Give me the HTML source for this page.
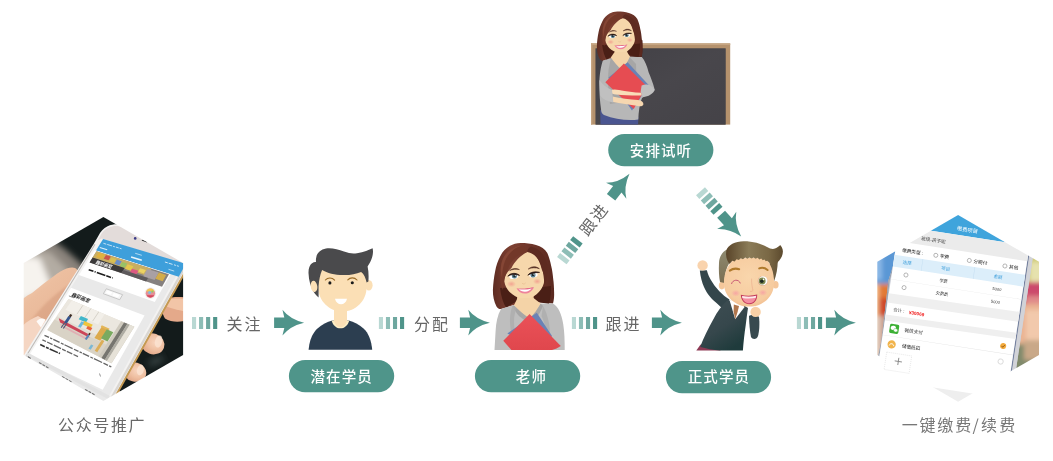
<!DOCTYPE html>
<html lang="zh-CN">
<head>
<meta charset="utf-8">
<title>流程</title>
<style>
html,body{margin:0;padding:0;background:#fff;}
body{width:1053px;height:461px;overflow:hidden;position:relative;font-family:"Liberation Sans","Noto Sans CJK SC",sans-serif;}
svg{position:absolute;left:0;top:0;display:block;will-change:transform;}
.lbl{font-family:"Liberation Sans","Noto Sans CJK SC",sans-serif;font-size:16px;fill:#666;letter-spacing:2px;}
.cap{font-family:"Noto Sans CJK SC","Liberation Sans",sans-serif;font-size:16px;fill:#686868;}
.pill{font-family:"Liberation Sans","Noto Sans CJK SC",sans-serif;font-size:14.5px;fill:#fff;font-weight:500;letter-spacing:1.1px;}
.st{font-family:"Liberation Sans","Noto Sans CJK SC",sans-serif;}
</style>
</head>
<body>
<svg width="1053" height="461" viewBox="0 0 1053 461">
<defs>
  <g id="bars">
    <rect x="0" y="-6" width="4.1" height="12" fill="#b9d8d3"/>
    <rect x="7.04" y="-6" width="4.1" height="12" fill="#8dbdb6"/>
    <rect x="14.08" y="-6" width="4.1" height="12" fill="#6ea79f"/>
    <rect x="21.12" y="-6" width="4.1" height="12" fill="#4f948a"/>
  </g>
  <g id="bars2">
    <rect x="0" y="-6" width="4.9" height="12" fill="#b9d8d3"/>
    <rect x="7.1" y="-6" width="4.9" height="12" fill="#8dbdb6"/>
    <rect x="14.2" y="-6" width="4.9" height="12" fill="#6ea79f"/>
    <rect x="21.3" y="-6" width="4.9" height="12" fill="#4f948a"/>
  </g>
  <path id="arrow" d="M0,-5.3 L10.2,-5.3 L8.35,-12.9 Q16,-3.2 30,0 Q16,3.2 8.35,12.9 L10.2,5.3 L0,5.3 Z" fill="#4f948a"/>
  <clipPath id="hexL"><polygon points="103.4,216.9 183.1,262.9 183.1,354.9 103.4,400.9 23.7,354.9 23.7,262.9"/></clipPath>
  <clipPath id="hexR"><polygon points="958.1,215.1 1039,261.8 1039,355 958.1,401.7 877.3,355 877.3,261.8"/></clipPath>

<linearGradient id="hairG" x1="0" y1="0" x2="1" y2="0">
  <stop offset="0" stop-color="#5e2c22"/>
  <stop offset="0.3" stop-color="#7d4032"/>
  <stop offset="0.6" stop-color="#6f362a"/>
  <stop offset="1" stop-color="#5a291f"/>
</linearGradient>
<linearGradient id="redG" x1="0" y1="0" x2="0" y2="1">
  <stop offset="0" stop-color="#ea5158"/>
  <stop offset="1" stop-color="#e0474d"/>
</linearGradient>
<radialGradient id="blushG">
  <stop offset="0" stop-color="#f29a8c" stop-opacity="0.85"/>
  <stop offset="1" stop-color="#f29a8c" stop-opacity="0"/>
</radialGradient>
<g id="thead">
  <!-- teacher head in local coords; origin = (488,238) source -->
  <!-- back hair -->
  <path d="M32.5,5 C28.5,5 25,6.2 22,7.8 C18,10 14.5,13.5 12.4,18 C10,22.5 8,28 7.2,33 C6,39 5.2,45 4.9,52 C4.8,58 6,64 8.5,68.5 C10,70.5 11.5,71.3 13,71 L29,66 L46,64 L65,65.6 C66,62 66.3,58 66.1,54 C66,49 65.8,45 65.2,41 C64.8,36 64.2,32 63.2,28 C62.3,23 61,19 59.3,15 C57,11 53,8.6 48,7 C43,5.4 38,5 32.5,5 Z" fill="url(#hairG)"/>
  <path d="M12,50 C13,58 15,65 18,69.6 L31,62 L29,49 Z" fill="#4a1f16"/>
  <path d="M45,50 L45,63 L61,66 C62.6,60 63.2,54 63,48 Z" fill="#4a1f16"/>
  <!-- neck -->
  <path d="M29.5,50 L45,50 L46,64 L29,64 Z" fill="#efcb9f"/>
  <path d="M29.5,55 C33,59.5 41,59.5 45,54 L45,57.5 C41,62 33,62 29.5,58 Z" fill="#e2b98a" opacity="0.7"/>
  <!-- face -->
  <path d="M39.2,14 C32,17.5 26.5,24 23.6,29.7 C19.6,33.4 16.2,38 16.3,43.3 C16.8,48 19.5,51.5 21.6,54 C25,57.2 29.5,59.6 33,61 C35.5,62 38.5,62.2 41,61 C44.5,59.4 48,57 50.9,54 C54,50.5 56,46.5 56.3,42.4 C56.6,38.6 55.6,35 53.8,31.6 C52.6,26 50,19.5 46.5,16 C44,14 41.5,13.4 39.2,14 Z" fill="#f6d7ab"/>
  <!-- hair front strands -->
  <path d="M39.2,14 C30,16 23.5,22 20.2,30 C17,37 15.4,44 15,52 C11.4,44 10.6,34 13.2,25.5 C16,16 24.5,8.6 34,7.6 C37,8.6 38.8,11 39.2,14 Z" fill="#733829"/>
  <path d="M34,7.6 C27,9.5 20.5,15 17,23 C15,28 14,34 14.2,40 C12.2,34 12.5,27 14.6,21.5 C18,13.5 25.5,8.4 34,7.6 Z" fill="#8a4a38" opacity="0.8"/>
  <path d="M39.2,14 C44.5,14.6 49.6,19 52.6,26 C55,32 56.4,40 56.2,48 C59,42 60.2,34 59.2,27 C57.6,17.4 51,10.4 43,8.6 C41,9.6 39.6,11.4 39.2,14 Z" fill="#5e2b20"/>
  <!-- blush -->
  <ellipse cx="23.4" cy="46" rx="4.6" ry="3.2" fill="url(#blushG)"/>
  <ellipse cx="49.2" cy="43.4" rx="4.2" ry="3" fill="url(#blushG)"/>
  <!-- eyes -->
  <ellipse cx="25.8" cy="38.2" rx="4.5" ry="2.7" fill="#fff" transform="rotate(-6 25.8 38.2)"/>
  <circle cx="26.4" cy="38.1" r="2.5" fill="#5b8190"/>
  <circle cx="26.4" cy="38.1" r="1.2" fill="#1b2a30"/>
  <circle cx="27.3" cy="37.3" r="0.6" fill="#fff"/>
  <path d="M19.8,38.2 C22,35 27.8,34.2 31.6,37.4 C27.6,36 23.2,36.2 19.8,38.2 Z" fill="#2a1712" stroke="#2a1712" stroke-width="0.7" stroke-linejoin="round"/>
  <ellipse cx="45.4" cy="36.8" rx="4.3" ry="2.7" fill="#fff" transform="rotate(-8 45.4 36.8)"/>
  <circle cx="45" cy="36.9" r="2.5" fill="#5b8190"/>
  <circle cx="45" cy="36.9" r="1.2" fill="#1b2a30"/>
  <circle cx="45.9" cy="36.1" r="0.6" fill="#fff"/>
  <path d="M39.8,37.2 C42.4,33.8 47.6,33.2 51.6,34.4 C47.4,34.6 43,35.2 39.8,37.2 Z" fill="#2a1712" stroke="#2a1712" stroke-width="0.7" stroke-linejoin="round"/>
  <!-- brows -->
  <path d="M21.6,32.6 C24.4,30.2 28,29.8 31.4,31.6 C28,31 24.6,31.2 21.6,32.6 Z" fill="#4a241a" stroke="#4a241a" stroke-width="0.5" stroke-linejoin="round"/>
  <path d="M40.2,31.1 C43,28.4 47.4,27.6 51.4,30.7 C47.6,29.4 43.6,29.6 40.2,31.1 Z" fill="#4a241a" stroke="#4a241a" stroke-width="0.5" stroke-linejoin="round"/>
  <!-- nose -->
  <path d="M34.2,45.4 C35.2,46.4 36.6,46.3 37.4,45.2" fill="none" stroke="#e6bd90" stroke-width="0.7" stroke-linecap="round"/>
  <!-- mouth -->
  <path d="M28.5,50.2 C32,51.2 41,50.6 46,49.2 C44,53.4 40.6,55.6 37,55.6 C33.4,55.6 30.2,53.6 28.5,50.2 Z" fill="#ee829c"/>
  <path d="M28.5,50.2 C32,51.2 41,50.6 46,49.2 C41,51.4 33,52 28.5,50.2 Z" fill="#dc5a7e"/>
  <path d="M30.8,51.2 C34,52 40,51.6 43.6,50.4 C42.2,52.4 39.8,53.6 37,53.7 C34.4,53.7 32.2,52.8 30.8,51.2 Z" fill="#fff"/>
</g>
<linearGradient id="boardG" x1="0" y1="0" x2="1" y2="1">
  <stop offset="0" stop-color="#3f3e43" stop-opacity="0.6"/>
  <stop offset="0.5" stop-color="#4a494e" stop-opacity="0.6"/>
  <stop offset="1" stop-color="#434247" stop-opacity="0.6"/>
</linearGradient>
<linearGradient id="shairG" x1="0" y1="0" x2="1" y2="0">
  <stop offset="0" stop-color="#594429"/>
  <stop offset="0.4" stop-color="#8b7c58"/>
  <stop offset="0.75" stop-color="#7a6845"/>
  <stop offset="1" stop-color="#5c4a2e"/>
</linearGradient>
<linearGradient id="sideG" x1="0" y1="0" x2="0" y2="1">
  <stop offset="0" stop-color="#8e8a70"/>
  <stop offset="1" stop-color="#7b6e52"/>
</linearGradient>
<linearGradient id="swG" x1="0" y1="0" x2="0.6" y2="1">
  <stop offset="0" stop-color="#3f4f54"/>
  <stop offset="0.6" stop-color="#36474c"/>
  <stop offset="1" stop-color="#1f3b3c"/>
</linearGradient>
<radialGradient id="sblushG">
  <stop offset="0" stop-color="#f6a3a3" stop-opacity="0.95"/>
  <stop offset="1" stop-color="#f6a3a3" stop-opacity="0"/>
</radialGradient>
<radialGradient id="faceG" cx="0.5" cy="0.4" r="0.65">
  <stop offset="0" stop-color="#f9d6ac"/>
  <stop offset="0.8" stop-color="#f6cb9f"/>
  <stop offset="1" stop-color="#f1bb8c"/>
</radialGradient>
<filter id="blur4" x="-30%" y="-30%" width="160%" height="160%"><feGaussianBlur stdDeviation="4"/></filter>
<filter id="blur1" x="-20%" y="-20%" width="140%" height="140%"><feGaussianBlur stdDeviation="0.9"/></filter>
<filter id="blur05" x="-20%" y="-20%" width="140%" height="140%"><feGaussianBlur stdDeviation="0.5"/></filter>
<linearGradient id="thumbG" x1="0" y1="0" x2="0.5" y2="1">
  <stop offset="0" stop-color="#f7dac2"/>
  <stop offset="0.35" stop-color="#ecbe9f"/>
  <stop offset="1" stop-color="#e4ae8e"/>
</linearGradient>
<radialGradient id="tipG" cx="0.6" cy="0.4" r="0.7">
  <stop offset="0" stop-color="#f8d6c0"/>
  <stop offset="0.5" stop-color="#efc0a2"/>
  <stop offset="1" stop-color="#dfa283"/>
</radialGradient>
<linearGradient id="bgL" x1="0" y1="0" x2="1" y2="0">
  <stop offset="0" stop-color="#f1eee9"/>
  <stop offset="0.45" stop-color="#b8b1a8"/>
  <stop offset="1" stop-color="#6b665f"/>
</linearGradient>
<filter id="blur3" x="-30%" y="-30%" width="160%" height="160%"><feGaussianBlur stdDeviation="3"/></filter>
<filter id="blur2" x="-30%" y="-30%" width="160%" height="160%"><feGaussianBlur stdDeviation="2.2"/></filter>

</defs>

<!-- LEFT HEX -->
<g id="hex-left" clip-path="url(#hexL)"><g style="isolation:isolate" opacity="0.999">
<rect x="20" y="210" width="170" height="195" fill="#131b1b"/>
<g filter="url(#blur3)">
<polygon points="0,262 30,246 50,238 66,250 86,268 60,296 0,320" fill="#8a837b"/>
<polygon points="0,262 28,250 50,252 68,270 50,296 0,314" fill="#b3aca3"/>
<polygon points="0,262 24,256 40,258 52,288 0,312" fill="#f6f3ee"/>
</g>
<ellipse cx="156" cy="361" rx="9" ry="4" fill="#333c3c" filter="url(#blur3)" transform="rotate(-25 156 361)"/>
<path d="M10,312 C16,304 24,297 32,293 C42,285 52,277 60,271.8 C66,268 72,266.6 75,268 C78,269.4 78.6,272.5 76.5,276 L30,360 L10,380 Z" fill="url(#thumbG)"/>
<path d="M30,322 C40,308 54,294 70,284 L74,279 L60,303 L44,330 Z" fill="#d9a283" opacity="0.7" filter="url(#blur1)"/>
<path d="M10,380 L10,340 C18,328 28,320 38,316 L48,322 L28,362 Z" fill="#f5d6c3"/>
<path d="M36.5,321.5 C38.5,318.6 42.5,317.6 45.5,319.4 L41,327.5 Z" fill="#fff" opacity="0.9"/>
<path d="M166.5,298.5 C172,296.5 182,296.5 190,298 L190,319 C182,322.5 172,322.8 165,318.5 C161,313 162,303 166.5,298.5 Z" fill="#e4a98a"/>
<path d="M168,299.6 C174,298 183,298.4 190,300 L190,312 C182,311 174,309.5 166.5,306.5 Z" fill="#f2c5a7"/>
<ellipse cx="152.6" cy="343.8" rx="12" ry="10.4" fill="url(#tipG)" transform="rotate(20 152.6 343.8)"/>
<ellipse cx="158.6" cy="341.5" rx="3.6" ry="6.2" fill="#fbe3d2" opacity="0.8" transform="rotate(15 158.6 341.5)"/>
<ellipse cx="134.8" cy="372" rx="11.6" ry="9.6" fill="url(#tipG)" transform="rotate(15 134.8 372)"/>
<ellipse cx="140.4" cy="370" rx="3.4" ry="5.4" fill="#fbe3d2" opacity="0.8" transform="rotate(15 140.4 370)"/>
<ellipse cx="115" cy="396" rx="8" ry="6" fill="#e9b596"/>
<path d="M94,243.6 L98.6,235.6 C100.4,231.6 103.4,228.2 107.6,226.2 C110.6,224.8 113.6,224.2 117,224.2 L196.3,236 L196.3,250 L108.9,406 L11,376 Z" fill="#c59a52" transform="translate(1.9,0.6)"/>
<path d="M94,243.6 L98.6,235.6 C100.4,231.6 103.4,228.2 107.6,226.2 C110.6,224.8 113.6,224.2 117,224.2 L196.3,236 L196.3,250 L108.9,406 L11,376 Z" fill="#f3f2f1"/>
<path d="M196.3,250 L108.9,406" stroke="#d9d6d2" stroke-width="2.4" fill="none" transform="translate(-1.6,-0.5)"/>
<path d="M97.6,240.6 L100.2,236 C102,232.4 104.8,229.4 108.6,227.6 C111.4,226.4 114,225.8 117.5,226 L190,240 L190,266 L101.5,238.5 Z" fill="#e3dcda"/>
<path d="M95,244.2 L19.5,367" stroke="#bdbab7" stroke-width="1.1" fill="none"/>
<circle cx="135.2" cy="238.4" r="1.3" fill="#3b3a86"/>
<path d="M142.4,240.3 L146.6,241.8" stroke="#2a2a2a" stroke-width="1.2" stroke-linecap="round"/>
<polygon points="94.5,249.8 176.4,275.7 101.1,410.2 20.1,369.8" fill="#e9e9e9" />
<polygon points="103.1,239.0 185.9,263.8 178.7,276.8 96.0,250.5" fill="#3e9fdb" />
<line x1="103.4" y1="243.3" x2="121.5" y2="248.8" stroke="#cfe8f8" stroke-width="0.90" stroke-dasharray="3 1 5 1 2 1"/>
<line x1="99.8" y1="247.5" x2="107.2" y2="249.8" stroke="#dff0fb" stroke-width="1.10" />
<line x1="135.2" y1="253.3" x2="141.8" y2="255.3" stroke="#cfe8f8" stroke-width="0.80" />
<line x1="131.1" y1="257.0" x2="141.8" y2="260.3" stroke="#e8f4fc" stroke-width="1.50" />
<line x1="164.9" y1="262.0" x2="178.8" y2="266.3" stroke="#cfe8f8" stroke-width="1.00" stroke-dasharray="3 1 4 1.5 2 1"/>
<line x1="168.5" y1="269.3" x2="174.2" y2="271.1" stroke="#cfe8f8" stroke-width="0.80" />
<polygon points="94.4,250.0 170.5,274.2 154.8,302.0 78.9,275.0" fill="#ffffff" />
<polygon points="96.5,251.3 169.0,274.3 162.0,286.7 89.6,262.4" fill="#85807f" />
<polygon points="96.5,251.3 151.4,268.7 147.2,276.1 92.3,258.1" fill="#c9ae62" />
<polygon points="98.7,252.6 105.2,254.7 102.5,259.1 95.9,257.0" fill="#e0b23e" />
<polygon points="106.0,254.9 110.9,256.5 108.6,260.3 103.7,258.7" fill="#c9544a" />
<polygon points="111.4,257.4 116.3,259.0 114.0,262.8 109.0,261.2" fill="#d8c052" />
<polygon points="116.9,259.6 121.8,261.2 119.3,265.4 114.4,263.8" fill="#6a8ec9" />
<polygon points="122.3,262.0 127.2,263.5 124.6,267.9 119.7,266.3" fill="#98c266" />
<polygon points="127.7,264.3 133.4,266.2 130.8,270.7 125.1,268.8" fill="#e4c84e" />
<polygon points="132.0,268.7 138.5,270.8 136.2,274.8 129.6,272.7" fill="#dc5a82" />
<polygon points="140.1,268.2 145.8,270.0 143.8,273.4 138.1,271.5" fill="#ecd262" />
<polygon points="147.4,268.9 158.9,272.6 154.6,280.1 143.1,276.3" fill="#a9a0a4" />
<polygon points="158.9,272.6 166.2,274.9 162.7,281.2 155.3,278.8" fill="#d2ac4a" />
<polygon points="92.7,257.4 124.6,267.9 121.5,273.1 89.6,262.4" fill="#3c3a3a" />
<polygon points="123.5,269.9 148.0,278.0 146.1,281.4 121.5,273.1" fill="#5e5a5c" />
<text class="st" transform="matrix(1 0.31 -0.6 1 95.2 263.6)" font-size="4" font-weight="700" fill="#fff">趣彩画室</text>
<line x1="88.7" y1="269.7" x2="112.7" y2="278.0" stroke="#1d1d1d" stroke-width="1.60" stroke-dasharray="5 1.2 1.2 1.2 9 1"/>
<polygon points="106.3,288.8 122.6,294.7 119.7,299.7 103.4,293.7" fill="#f6f6f6" stroke="#b5b5b5" stroke-width="0.7"/>
<polygon points="107.3,290.5 112.2,292.3 110.7,294.8 105.8,293.0" fill="#ffffff" />
<polygon points="113.8,292.8 119.5,294.9 118.0,297.4 112.3,295.4" fill="#ffffff" />
<circle cx="150.4" cy="293.1" r="5.9" fill="#f4f2ee"/>
<circle cx="150.4" cy="293.3" r="4.7" fill="#e58f98"/>
<path d="M146.2,291.6 A4.4,4.4 0 0 1 154.6,291.6 Z" fill="#f0c654"/>
<path d="M146.6,295.2 L154.2,295.2 A4.4,4.4 0 0 1 146.6,295.2 Z" fill="#d4475c"/>
<circle cx="149.6" cy="292.6" r="1.5" fill="#7fc0dc"/>
<circle cx="152.4" cy="291.6" r="1.1" fill="#8ccf6a"/>
<polygon points="71.0,287.8 144.6,315.4 102.7,389.7 29.4,354.8" fill="#ffffff" />
<text class="st" transform="matrix(1 0.37 -0.6 1 71 296.2)" font-size="4.5" font-weight="700" fill="#222">趣彩画室</text>
<line x1="68.9" y1="295.9" x2="73.8" y2="297.8" stroke="#777" stroke-width="0.80" />
<polygon points="68.5,299.1 134.3,326.7 111.5,363.3 47.3,330.0" fill="#e2ddd2" />
<polygon points="68.5,299.1 122.5,321.7 110.1,341.3 56.8,316.1" fill="#ebe7df" />
<polygon points="54.5,319.5 107.6,345.2 99.9,357.3 47.3,330.0" fill="#d9d3c6" />
<polygon points="71.8,300.5 104.7,314.3 98.1,324.5 65.4,309.8" fill="#f2efe9" />
<polygon points="121.1,321.2 134.3,326.7 111.5,363.3 98.7,356.6" fill="#cfcabe" />
<polygon points="124.1,322.4 127.4,323.8 104.8,359.8 101.5,358.1" fill="#76756f" />
<polygon points="127.4,323.8 129.7,324.8 107.0,361.0 104.8,359.8" fill="#aeaca3" />
<polygon points="129.7,324.8 134.3,326.7 111.5,363.3 107.0,361.0" fill="#e6e2d8" />
<line x1="83.0" y1="305.2" x2="76.9" y2="314.2" stroke="#b9b4a8" stroke-width="0.50" />
<line x1="90.9" y1="308.5" x2="84.8" y2="317.7" stroke="#b9b4a8" stroke-width="0.50" />
<line x1="98.8" y1="311.8" x2="92.6" y2="321.2" stroke="#b9b4a8" stroke-width="0.50" />
<polygon points="102.0,326.2 107.9,328.9 100.3,340.7 94.4,337.9" fill="#dcaa4c" />
<polygon points="101.8,325.3 109.6,328.8 108.5,330.5 100.7,327.0" fill="#e4b658" />
<polygon points="106.8,329.3 113.3,332.2 107.5,341.4 101.0,338.3" fill="#79aa60" />
<polygon points="101.8,339.7 104.4,340.9 97.2,352.2 94.7,350.8" fill="#dcae58" />
<polygon points="80.9,315.9 88.1,319.1 85.9,322.5 78.7,319.2" fill="#41b6ca" />
<polygon points="84.3,320.9 92.8,324.8 90.6,328.1 82.2,324.2" fill="#f0c53c" />
<polygon points="87.8,325.9 92.4,328.1 90.6,330.8 86.1,328.6" fill="#e8653f" />
<polygon points="81.5,321.3 84.1,322.5 80.6,327.8 78.0,326.6" fill="#6cb8dc" />
<polygon points="58.8,318.3 87.8,333.8 89.5,337.8 60.1,322.6" fill="#cc4558" />
<polygon points="60.1,323.9 85.6,337.2 85.8,339.5 61.6,326.7" fill="#e0b0b4" />
<polygon points="68.4,316.1 71.0,317.3 66.7,323.7 64.1,322.5" fill="#35558e" />
<polygon points="70.2,314.1 72.3,315.0 70.8,317.2 68.7,316.3" fill="#3a2a22" />
<polygon points="64.1,322.5 65.1,322.9 61.6,328.0 60.7,327.5" fill="#4a5a78" />
<polygon points="66.0,323.4 67.0,323.9 63.8,328.7 62.8,328.2" fill="#4a5a78" />
<polygon points="87.9,334.3 89.8,335.3 86.7,340.0 84.8,339.0" fill="#5a86b8" />
<polygon points="89.2,332.7 90.7,333.5 89.6,335.2 88.1,334.4" fill="#4a3020" />
<polygon points="91.1,344.4 93.4,345.6 90.7,349.7 88.4,348.6" fill="#7ab8d4" />
<line x1="44.5" y1="335.3" x2="112.0" y2="367.2" stroke="#666" stroke-width="1.30" stroke-dasharray="5 1.2 2.5 1 7 1.4 3 1 9 1.5"/>
<line x1="42.4" y1="339.8" x2="78.0" y2="356.6" stroke="#666" stroke-width="1.30" stroke-dasharray="4 1.2 6 1.4 8 1.2"/>
<line x1="40.2" y1="344.6" x2="60.0" y2="353.6" stroke="#333" stroke-width="1.60" stroke-dasharray="5 1.4 3 1 9 1"/>
<polygon points="27.5,352.5 110.0,396.0 108.0,399.0 26.0,355.5" fill="#e2e2e2" />
<line x1="27.6" y1="356.8" x2="30.6" y2="358.6" stroke="#666" stroke-width="1.60" stroke-dasharray=""/>
<line x1="39.0" y1="362.4" x2="49.0" y2="368.4" stroke="#777" stroke-width="1.20" stroke-dasharray="3 1 3 1"/>
<line x1="62.0" y1="376.4" x2="72.0" y2="382.2" stroke="#777" stroke-width="1.20" stroke-dasharray="3 1 3 1"/>
<line x1="85.0" y1="389.4" x2="95.0" y2="395.0" stroke="#777" stroke-width="1.20" stroke-dasharray="3 1 3 1"/>
<line x1="99.5" y1="373.5" x2="100.5" y2="376.5" stroke="#888" stroke-width="0.90" stroke-dasharray=""/>
</g></g>

<!-- RIGHT HEX -->
<g id="hex-right" clip-path="url(#hexR)"><g style="isolation:isolate" opacity="0.999">
<rect x="870" y="210" width="175" height="195" fill="#ffffff"/>
<!-- background left -->
<g filter="url(#blur2)">
  <rect x="868" y="235" width="34" height="52" fill="#5a97d5"/>
  <rect x="868" y="240" width="14" height="40" fill="#8bb8e6"/>
  <rect x="868" y="284" width="30" height="18" fill="#e27a35"/>
  <rect x="872" y="298" width="26" height="32" fill="#cf4a2c"/>
  <rect x="868" y="284" width="11" height="40" fill="#f2c090"/>
  <rect x="868" y="316" width="30" height="45" fill="#e6d2c2"/>
  <rect x="880" y="316" width="8" height="40" fill="#c9a090"/>
</g>
<!-- background right -->
<g filter="url(#blur2)">
  <rect x="1016" y="245" width="30" height="40" fill="#cfca74"/>
  <rect x="1030" y="262" width="16" height="26" fill="#e6e2ae"/>
  <rect x="1020" y="282" width="26" height="22" fill="#cc4a6c"/>
  <rect x="1026" y="296" width="20" height="12" fill="#e08a8a"/>
  <rect x="1012" y="304" width="34" height="44" fill="#eab493"/>
  <rect x="1026" y="310" width="20" height="30" fill="#f2c9ac"/>
  <rect x="1006" y="344" width="34" height="34" fill="#808a6c"/>
  <rect x="1024" y="340" width="20" height="20" fill="#c9a888"/>
</g>
<polygon points="899.5,246 905,246 893.5,280 886,340 883,362 877,362 881.5,340 888.5,280" fill="#c5c9d3"/>
<polygon points="899.5,246 900.8,246 889.7,280 882.6,340 878.2,362 877,362 881.5,340 888.5,280" fill="#9aa1ae"/>
<polygon points="902.8,246 905,246 893.5,280 886,340 883,362 881,362 884,340 891.3,280" fill="#f1f2f5"/>
<g transform="matrix(1 0.155 -0.15 1 958 235)">
  <!-- bezels -->
  <rect x="-59" y="-40" width="135.4" height="220" fill="#c9ccd5"/>
  <rect x="71.4" y="-40" width="1.2" height="220" fill="#75819f"/>
  <rect x="72.9" y="-40" width="3.5" height="220" fill="#d2d3d8"/>
  <!-- screen -->
  <rect x="-59" y="-40" width="130.4" height="220" fill="#ffffff"/>
  <rect x="-59" y="-45" width="130.4" height="45" fill="#3fa4dc"/>
  <text x="8.5" y="-4.6" font-size="5.2" fill="#ffffff" text-anchor="middle" class="st">缴费项目</text>
  <rect x="-59" y="0" width="130.4" height="15.2" fill="#ebebeb"/>
  <text x="-35.5" y="10.4" font-size="4.6" fill="#444" class="st">班级-孩子呢</text>
  <!-- row1 -->
  <text x="-52.4" y="24.8" font-size="4.6" fill="#222" class="st">缴费类型 :</text>
  <circle cx="-18.7" cy="23.2" r="2" fill="#fff" stroke="#777" stroke-width="0.5"/>
  <text x="-14.6" y="24.8" font-size="4.6" fill="#222" class="st">学费</text>
  <circle cx="14.8" cy="23.2" r="2" fill="#fff" stroke="#777" stroke-width="0.5"/>
  <text x="19" y="24.8" font-size="4.6" fill="#222" class="st">分期付</text>
  <circle cx="50.4" cy="23.2" r="2" fill="#fff" stroke="#777" stroke-width="0.5"/>
  <text x="54.6" y="24.8" font-size="4.6" fill="#222" class="st">其他</text>
  <!-- blue row -->
  <rect x="-59" y="28.8" width="130.4" height="11.8" fill="#dceefa"/>
  <rect x="-31" y="28.8" width="0.5" height="11.8" fill="#c6e0f2"/>
  <rect x="21" y="28.8" width="0.5" height="11.8" fill="#c6e0f2"/>
  <text x="-45.6" y="36.4" font-size="4.4" fill="#3c9edb" text-anchor="middle" class="st">选择</text>
  <text x="-7.1" y="36.4" font-size="4.4" fill="#3c9edb" text-anchor="middle" class="st">项目</text>
  <text x="45.3" y="36.4" font-size="4.4" fill="#3c9edb" text-anchor="middle" class="st">金额</text>
  <!-- row2 -->
  <circle cx="-45" cy="47" r="2" fill="#fff" stroke="#777" stroke-width="0.5"/>
  <text x="-7.4" y="48.5" font-size="4.2" fill="#333" text-anchor="middle" class="st">学费</text>
  <text x="46" y="48.4" font-size="4" fill="#333" text-anchor="middle" class="st">5000</text>
  <rect x="-59" y="53.1" width="130.4" height="0.4" fill="#e4e4e4"/>
  <!-- row3 -->
  <circle cx="-45" cy="59.6" r="2" fill="#fff" stroke="#777" stroke-width="0.5"/>
  <text x="-7.1" y="61.2" font-size="4.2" fill="#333" text-anchor="middle" class="st">欠费费</text>
  <text x="46.4" y="61.1" font-size="4" fill="#333" text-anchor="middle" class="st">5000</text>
  <!-- gray2 -->
  <polygon points="-59,67.4 71.4,65.8 71.4,75.8 -59,76.6" fill="#efefef"/>
  <!-- total -->
  <text x="-52.4" y="84.2" font-size="4.4" fill="#444" class="st">合计 :</text>
  <text x="-36.6" y="84.6" font-size="4.6" fill="#f01818" font-weight="700" class="st">¥30069</text>
  <!-- gray3 -->
  <polygon points="-59,88.6 71.4,86.8 71.4,93 -59,94.6" fill="#efefef"/>
  <!-- wechat row -->
  <rect x="-53.2" y="96.8" width="9.2" height="9.2" rx="1.6" fill="#3cb034"/>
  <ellipse cx="-49.6" cy="100.6" rx="2.6" ry="2.1" fill="#fff"/>
  <ellipse cx="-47" cy="102.6" rx="2.1" ry="1.7" fill="#fff" stroke="#3cb034" stroke-width="0.4"/>
  <text x="-38.4" y="102.6" font-size="4.6" fill="#222" class="st">微信支付</text>
  <circle cx="60.4" cy="101.7" r="3" fill="#f2a93b"/>
  <path d="M58.9,101.8 L60,102.9 L62,100.6" fill="none" stroke="#7a4a12" stroke-width="0.7"/>
  <rect x="-59" y="108.8" width="130.4" height="0.4" fill="#e2e2e2"/>
  <!-- stored row -->
  <circle cx="-48.8" cy="117" r="4.1" fill="#f1b44c"/>
  <path d="M-51,118 C-50.4,115.6 -47.2,115.6 -46.6,118" fill="none" stroke="#fff" stroke-width="0.9" stroke-linecap="round"/>
  <text x="-38.6" y="118.4" font-size="4.6" fill="#222" class="st">储值抵扣</text>
  <circle cx="60.2" cy="117.2" r="2.6" fill="#fff" stroke="#bbb" stroke-width="0.5"/>
  <!-- bottom gray -->
  <rect x="-59" y="152.7" width="130.4" height="40" fill="#eeeeee"/>
</g>
</g></g>

<g transform="matrix(1 0.155 -0.15 1 958 235)">
  <rect x="-52.5" y="125.2" width="25" height="17.4" fill="#fff" stroke="#d4d4d4" stroke-width="0.5" stroke-dasharray="1 1"/>
  <path d="M-43.4,132.6 L-36.2,132.6 M-39.8,129 L-39.8,136.2" stroke="#8a8a8a" stroke-width="0.9" fill="none"/>
</g>


<!-- ARROWS -->
<g id="flow">
  <use href="#bars" x="192" y="323"/>
  <use href="#arrow" x="274.1" y="322.7"/>
  <use href="#bars" x="378.9" y="323"/>
  <use href="#arrow" x="459.9" y="322.7"/>
  <use href="#bars" x="571.9" y="323"/>
  <use href="#arrow" x="651.9" y="322.7"/>
  <use href="#bars" x="796.9" y="323"/>
  <use href="#arrow" x="825.9" y="322.7"/>
  <g transform="translate(561.8,260.6) rotate(-52.1)">
    <use href="#bars2" x="0" y="0"/>
    <use href="#arrow" x="80.2" y="0"/>
    <text class="lbl" x="34.5" y="6" >跟进</text>
  </g>
  <g transform="translate(700.5,191.3) rotate(48)">
    <use href="#bars2" x="0" y="0"/>
    <use href="#arrow" x="30.8" y="0"/>
  </g>
  <text class="lbl" x="226.5" y="329.7">关注</text>
  <text class="lbl" x="414" y="329.7">分配</text>
  <text class="lbl" x="605.5" y="329.7">跟进</text>
</g>

<!-- PILLS -->
<g id="pills">
  <rect x="288.9" y="359.9" width="105.3" height="32.4" rx="16.2" fill="#4f958a"/>
  <rect x="474.9" y="359.9" width="105.3" height="32.4" rx="16.2" fill="#4f958a"/>
  <rect x="665.9" y="360.9" width="105.2" height="32.4" rx="16.2" fill="#4f958a"/>
  <rect x="608.2" y="133.9" width="105.2" height="32.3" rx="16.15" fill="#4f958a"/>
  <text class="pill" x="310.5" y="382.1">潜在学员</text>
  <text class="pill" x="515.8" y="382.1">老师</text>
  <text class="pill" x="687.7" y="382.2">正式学员</text>
  <text class="pill" x="629.8" y="156.2">安排试听</text>
</g>

<!-- CAPTIONS -->
<text class="cap" x="58 75.65 93.3 110.95 128.6" y="430.6">公众号推广</text>
<text class="cap" style="fill:#777" x="901.8 919.5 937.3 955.3 972.4 980.9 999.3" y="430.8">一键缴费/续费</text>

<!-- AVATAR BOY -->
<g id="boy">
<!-- body -->
<path d="M308.6,349.8 C309.5,340 312.5,333 317.5,328.5 C322,324.5 327,322 332.3,320.6 L348.7,320.6 C354,322 359,324.5 363.5,328.5 C368.5,333 371.3,340 372.2,349.8 Z" fill="#2c3e50"/>
<!-- collar/neck -->
<path d="M331.6,320.4 C333,325.5 336.5,328.3 340.4,328.3 C344.3,328.3 347.8,325.5 349.3,320.4 Z" fill="#fdeec4"/>
<path d="M334,306 L347,306 L347,320.4 C346,324.6 343.5,327 340.4,327 C337.3,327 335,324.6 334,320.4 Z" fill="#fbdfb5"/>
<!-- ears -->
<ellipse cx="368.8" cy="285.2" rx="3.8" ry="5.2" fill="#fbdfb5"/>
<!-- face -->
<path d="M318.2,262 L366.6,262 L366.6,287 C366.6,301 355.5,311.6 342.4,311.6 C329.3,311.6 318.2,301 318.2,287 Z" fill="#fbdfb5"/>
<!-- hair -->
<path d="M316.3,257.2 C317,252.5 321,249.2 326,248.4 C332,247.6 338,249.4 344,251.6 C349,253.4 353,254 357,253.2 C364,251.8 369,250 372.6,248.2 C373.6,252 373,259 367.6,266.5 C368.6,271 368.8,276 368.4,281.5 L366.6,282.5 C365.6,277.5 364,274 361.1,271.9 C356,274 350,275.3 343,275.1 C335,275 327,273 322.1,270 C320,275 319,280 318.6,286 L318.6,297.5 C313,293 308.8,284 308.5,273 C308.4,268.5 309.6,265 312,263.2 C313.4,262.2 314.8,261.8 316,262 C315.8,260.4 315.9,258.8 316.3,257.2 Z" fill="#4a4a4c"/>
<ellipse cx="314" cy="286.4" rx="3.3" ry="5.6" fill="#fbdfb5" transform="rotate(-8 314 286.4)"/>
<!-- eyes -->
<circle cx="329.9" cy="282.9" r="1.55" fill="#1a1a1a"/>
<circle cx="352.3" cy="282.7" r="1.55" fill="#1a1a1a"/>
<path d="M325.4,280 C327.8,277.4 332,277.4 334.6,280.2" fill="none" stroke="#9a6a25" stroke-width="1.1" stroke-linecap="round"/>
<path d="M347.8,279.8 C350.2,277.2 354.4,277.2 357,280" fill="none" stroke="#9a6a25" stroke-width="1.1" stroke-linecap="round"/>
<!-- mouth -->
<path d="M335,298.7 L347,298.7 C346.2,302.3 343.8,304.2 341,304.2 C338.2,304.2 335.8,302.3 335,298.7 Z" fill="#fff"/>
</g>
<!-- TEACHER -->
<g id="teacher">
<use href="#thead" x="488" y="238"/>
<!-- cardigan -->
<path d="M501,309 C497.5,315 496,323 495.6,331 L494.5,349.9 L564.7,349.9 C564.7,341 564.5,332 563.2,324 C561.5,314 558.5,307 553,303.6 L540.5,303.4 L529.6,318 L514,305 Z" fill="#bebebe"/>
<path d="M514,305.4 L529.6,318.6 L540.5,303.6 L543,306 C541,311 538,316 535,320 L529.6,324 L519,316 C516,312.5 514,309 512.5,306 Z" fill="#a6a6a6"/>
<path d="M512.5,306 C510,312 509.5,320 510.5,328 L511.5,340 L515,340 L514,322 C514,316 515,311 517.5,307 Z" fill="#adadad" opacity="0.8"/>
<path d="M543,306 C547,313 549.5,322 550,332 L551,345 L547,345 C547,335 545.5,324 541.5,316 Z" fill="#adadad" opacity="0.8"/>
<!-- chest skin -->
<path d="M517.5,298 L533.5,298 L540.6,303.4 C537.5,309 534,314 529.7,318.4 C524,314.5 518.5,310 514,305.2 Z" fill="#f4d3a7"/>
<!-- folders -->
<path d="M536.8,312.8 L552,336 L540,349.9 L507.3,333.6 Z" fill="#6a82b5"/>
<path d="M529.6,313.9 L560.8,346 C558,348 555,349.3 552,349.9 L511.4,349.9 L503.3,340.8 Z" fill="url(#redG)"/>
</g>
<!-- TEACHER BOARD -->
<g id="teacher-board">
<!-- blackboard -->
<rect x="591" y="43.4" width="139.2" height="81.2" fill="#b5926d"/>
<rect x="591" y="43.4" width="139.2" height="1.6" fill="#c6a582"/>
<rect x="591" y="43.4" width="1.4" height="81.2" fill="#c6a582"/>
<rect x="595.6" y="48.4" width="130" height="76.2" fill="#464348"/>
<rect x="595.6" y="48.4" width="130" height="76.2" fill="url(#boardG)"/>
<!-- skirt -->
<path d="M600.2,110 L638.5,117 L638,124.6 L600.5,124.6 Z" fill="#4a5590"/>
<!-- body top -->
<path d="M603.6,58.7 C600.5,66 599.4,76 599.3,84.7 C599.3,93 600,102 601,109 C601,112 602,114 604,115 C615,119.5 628,121 638.3,119.6 C638.6,112 639.5,104 642,98 L654.8,90 C653,83 650.5,77 648.7,72.6 C647,66 645,60.5 641.8,57 L630,56 L620,60 L611,55.5 Z" fill="#b7b7b7"/>
<path d="M611,57 L620.5,70 L629,56.5 L636,64 L637,100 L610,104 C608,92 607.5,80 608.5,70 Z" fill="#a6a6a6"/>
<!-- hair hanging -->
<path d="M598.5,40 C598.8,47 600.5,53 603.6,58.7 L611,56.5 L614.5,50 L613,44 Z" fill="#5a2a20"/>
<path d="M627,48 L626.5,51 L630,56.5 L641.8,57 C642.6,52 642.8,46 642.4,40 Z" fill="#4f231a"/>
<g transform="translate(593.2,7.8) scale(0.744)"><use href="#thead"/></g>
<!-- neck/chest -->
<path d="M614.6,52 L627,52 L630,56.6 C628,61.5 625,66 621.6,69.6 C617.5,66 613.6,61.4 610.8,57.4 Z" fill="#f4d3a7"/>
<!-- blue folder -->
<path d="M627.6,62.2 L648.6,85 L632,110.6 L608.5,77.5 Z" fill="#6a82b5"/>
<!-- red folder -->
<path d="M623.9,63.4 L646.6,86.1 L633.7,108.9 L605.3,82.3 Z" fill="#e64c52"/>
<path d="M607.6,89.6 L611.2,91.4 L610.4,93.6 L607.8,92.6 Z" fill="#3a2a2a"/>
<!-- arms -->
<path d="M611,90.2 C613,89.2 616,89.4 619,90 C626,91.4 634,92.6 641.4,92.8 L641.8,95.4 C634,95.6 624,95.2 616,94.4 C613.4,94.2 611.4,93.4 611,92.4 Z" fill="#f8dcb8"/>
<path d="M612.6,96.4 C620,98 630,99.4 638,100 C641.6,100.4 643.6,102.2 643.4,104.2 C643,106.2 640.6,106.6 638,106 C630,104.6 620,103.2 612.8,102 Z" fill="#f6d7b0"/>
<path d="M599.4,80 C602.5,84.5 607,88 612,90 L613.4,102.4 C607.5,101.6 602.6,99 600.2,95.6 Z" fill="#c0c0c0"/>
<path d="M641.6,85.6 C646,83.6 651,84 654.6,90 C653,94 648.5,96.6 643,97 L640.6,92 Z" fill="#c0c0c0"/>
</g>
<!-- STUDENT -->
<g id="student">
<!-- pants -->
<path d="M700.6,344.5 L721,347 L720.3,350.6 L696.3,350.6 Z" fill="#8d3a55"/>
<!-- raised arm -->
<path d="M699.8,270.5 C700.5,277 702,282.5 704,287 C707,294 712,299.5 716.5,303 L724,310 L729.5,299.5 C727,298 724.5,296.5 722.5,294.3 C718,290 714.5,286 712.5,282.5 C709.5,278 707.8,274 706.9,270.2 Z" fill="#34464b"/>
<!-- body sweater -->
<path d="M728,300 C722,305 717,312 713.5,319 C708,329 703.5,338 700.6,345.8 L700.2,347 C706,348.5 713,350 720.5,350.6 L742.9,350.6 C743.5,342 744.5,333 745.7,325.3 C746.5,319 747.2,313 748,308 L740,303 Z" fill="url(#swG)"/>
<!-- right arm -->
<path d="M749,316 C750.5,314.5 757,314.5 759,317 C759.8,323 759.4,331 758,336 C757,339.5 752.5,339.8 751,337 C749.8,331 749.2,323 749,316 Z" fill="#384a4f"/>
<!-- collar -->
<path d="M729.5,300 L735.2,319.2 L744.6,307 L740,302 Z" fill="#fff"/>
<path d="M733.8,304.5 L739,306 L737.6,312 L735.2,319.2 L733.6,311.5 Z" fill="#b0764d"/>
<!-- fist right -->
<circle cx="755.6" cy="311.9" r="5.2" fill="#f8d0a6"/>
<!-- fist left -->
<circle cx="702.6" cy="265.4" r="5.2" fill="#f9d3ad"/>
<!-- ears -->
<ellipse cx="721.8" cy="285.6" rx="3" ry="3.8" fill="#f5c79b"/>
<ellipse cx="775.6" cy="284.8" rx="3" ry="3.8" fill="#f5c79b"/>
<!-- side hair -->
<path d="M727,249.5 C722,252 719.3,257 719,263 C718.6,270 719,277 720,282 L724.5,283 C724.5,277 725.5,271 727.5,266.5 L731,260 Z" fill="url(#sideG)"/>
<path d="M777.8,261 C777.6,268 776.5,275 774,281.5 C773,276 771,269.5 768.5,264 Z" fill="#6a5a3e"/>
<!-- face -->
<path d="M724,284 C723.5,272 729,262 736,258.5 L764,257.5 C770.5,262 774.5,272 774,284 C773.5,297 763,306.6 749.3,306.6 C735.5,306.6 724.5,297 724,284 Z" fill="url(#faceG)"/>
<!-- hair top -->
<path d="M726.3,250.5 C728,245 735,241.3 743.8,241.2 C753,241.2 761,243.5 767,247 C770,248.8 773,249.5 775,248.5 C777.5,247.5 779,246.3 780.2,245 C782.5,247.5 783.5,250.5 782.6,254 C781.8,257.5 780,260 777.6,262.2 C776,265 774.5,268 773.5,271 C772,266.5 770,262.8 767.2,260.7 L765.8,261.2 L764.4,259.4 L762.8,260.2 L761.2,258.4 L759.4,259.4 L757.6,257.8 L755.6,258.8 L753.6,257.4 L751.6,258.6 L749.4,257.4 L747.4,258.8 L745.2,257.6 L743,259.2 L740.8,258.2 L738.8,260 L736.6,259.2 L734.6,261.4 L732.4,260.8 L729.5,264 C726.5,260.5 725.5,255.5 726.3,250.5 Z" fill="url(#shairG)"/>
<!-- blush -->
<ellipse cx="735.8" cy="293.2" rx="4.6" ry="3.4" fill="url(#sblushG)"/>
<ellipse cx="762.8" cy="292.6" rx="4.6" ry="3.4" fill="url(#sblushG)"/>
<!-- brows -->
<path d="M729.8,270.6 C732.5,268.6 736,268.2 739.2,269.2" fill="none" stroke="#b07a2c" stroke-width="2" stroke-linecap="round"/>
<path d="M759.2,268.4 C762,267.4 765.2,268 767.6,270" fill="none" stroke="#b07a2c" stroke-width="2" stroke-linecap="round"/>
<!-- wink -->
<path d="M731.6,283.6 C732.6,279.6 738.6,278.6 740.2,283" fill="none" stroke="#c24a6e" stroke-width="0.9" stroke-linecap="round"/>
<!-- eye -->
<circle cx="762.7" cy="281" r="5" fill="#c98f79" opacity="0.55"/>
<circle cx="763" cy="280.8" r="4.5" fill="#fff"/>
<circle cx="762.2" cy="281" r="3.4" fill="#7d8850"/>
<circle cx="761.8" cy="281.3" r="1.8" fill="#1f2a22"/>
<circle cx="763.6" cy="279.4" r="0.8" fill="#fff"/>
<!-- nose -->
<path d="M751.6,279 C751.4,284 752.4,288 753,290.4 C752.4,291.2 751.4,291.6 750.4,291.4" fill="none" stroke="#eaa98a" stroke-width="0.6" stroke-linecap="round"/>
<!-- mouth -->
<path d="M740.8,294.8 C746,296 752,296 757.2,294.6 C757.4,300.5 754,304.3 749.4,304.3 C744.6,304.3 741,300.5 740.8,294.8 Z" fill="#c23a5c"/>
<path d="M742,296 C746.5,296.9 752,296.9 756.2,295.8 C756,300.3 753.2,303.3 749.4,303.3 C745.4,303.3 742.4,300.4 742,296 Z" fill="#f48ea0"/>
<path d="M742,296 C746.5,296.9 752,296.9 756.2,295.8 C756.1,296.6 756,297.2 755.8,297.8 C751.5,298.6 746.5,298.6 742.4,297.9 Z" fill="#fde9ea"/>
</g>
</svg>
</body>
</html>
